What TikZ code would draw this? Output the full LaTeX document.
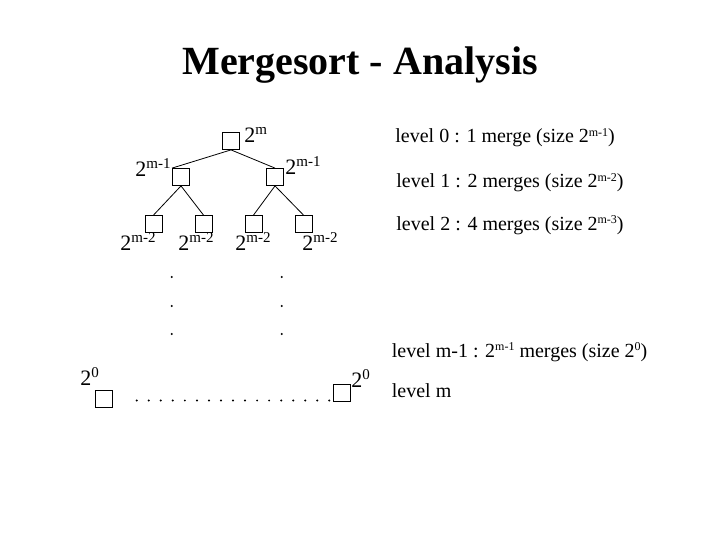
\documentclass[tikz,border=0pt]{standalone}
\usepackage{fontspec}
\setmainfont{Liberation Serif}
\newcommand\tsup[1]{\raisebox{8pt}{\fontsize{15}{15}\selectfont #1}}
\newcommand\lsup[1]{\raisebox{6.5pt}{\fontsize{12}{12}\selectfont #1}}
\tikzstyle{mergebox}=[draw, line width=0.8pt, minimum size=17pt, inner sep=0pt]
\tikzstyle{sizelabel}=[anchor=base west, inner sep=0pt, font=\fontsize{22}{22}\selectfont]
\tikzstyle{levellabel}=[anchor=base west, inner sep=0pt, font=\fontsize{20}{20}\selectfont]

\begin{document}
\begin{tikzpicture}[x=1pt, y=-1pt, line width=0.8pt]
        \useasboundingbox (0,0) rectangle (720,540);
        \node (title) at (360,75) [anchor=base, inner sep=0pt, font=\fontsize{40}{40}\selectfont\bfseries] {Mergesort - Analysis};
        \node (root) at (231,141) [mergebox] {};
        \node (la) at (181,177) [mergebox] {};
        \node (lb) at (275,177) [mergebox] {};
        \node (ma) at (153.5,224) [mergebox] {};
        \node (mb) at (203.5,224) [mergebox] {};
        \node (mc) at (253.5,224) [mergebox] {};
        \node (md) at (303.5,224) [mergebox] {};
        \node (leafa) at (103.5,399) [mergebox] {};
        \node (leafb) at (341.5,393) [mergebox] {};
        \draw (root.south) -- (la.north west);
        \draw (root.south) -- (lb.north);
        \draw (la.south) -- (ma.north);
        \draw (la.south) -- (mb.north);
        \draw (lb.south) -- (mc.north);
        \draw (lb.south) -- (md.north);
        \node (sroot) at (244,143) [sizelabel] {2\tsup{m}};
        \node (sla) at (171,177) [sizelabel, anchor=base east] {2\tsup{m-1}};
        \node (slb) at (285,175) [sizelabel] {2\tsup{m-1}};
        \node (sma) at (120,251) [sizelabel] {2\tsup{m-2}};
        \node (smb) at (178,251) [sizelabel] {2\tsup{m-2}};
        \node (smc) at (235,251) [sizelabel] {2\tsup{m-2}};
        \node (smd) at (302,251) [sizelabel] {2\tsup{m-2}};
        \node (sleafa) at (80,385) [sizelabel] {2\tsup{0}};
        \node (sleafb) at (351,387) [sizelabel] {2\tsup{0}};
        \foreach \y in {277,306,334} {
            \fill (171.7,\y) circle (1.1);
            \fill (281.7,\y) circle (1.1);
        }
        \foreach \i in {0,...,16}
            \fill (136.7+12.04*\i,400.5) circle (1.1);
        \node (lv0) at (395,143) [levellabel] {level 0 : 1 merge (size 2\lsup{m-1})};
        \node (lv1) at (396,188) [levellabel] {level 1 : 2 merges (size 2\lsup{m-2})};
        \node (lv2) at (396,230) [levellabel] {level 2 : 4 merges (size 2\lsup{m-3})};
        \node (lvm1) at (391.5,357) [levellabel] {level m-1 : 2\lsup{m-1} merges (size 2\lsup{0})};
        \node (lvm) at (391.5,397.5) [levellabel] {level m};
    \end{tikzpicture}
\end{document}
